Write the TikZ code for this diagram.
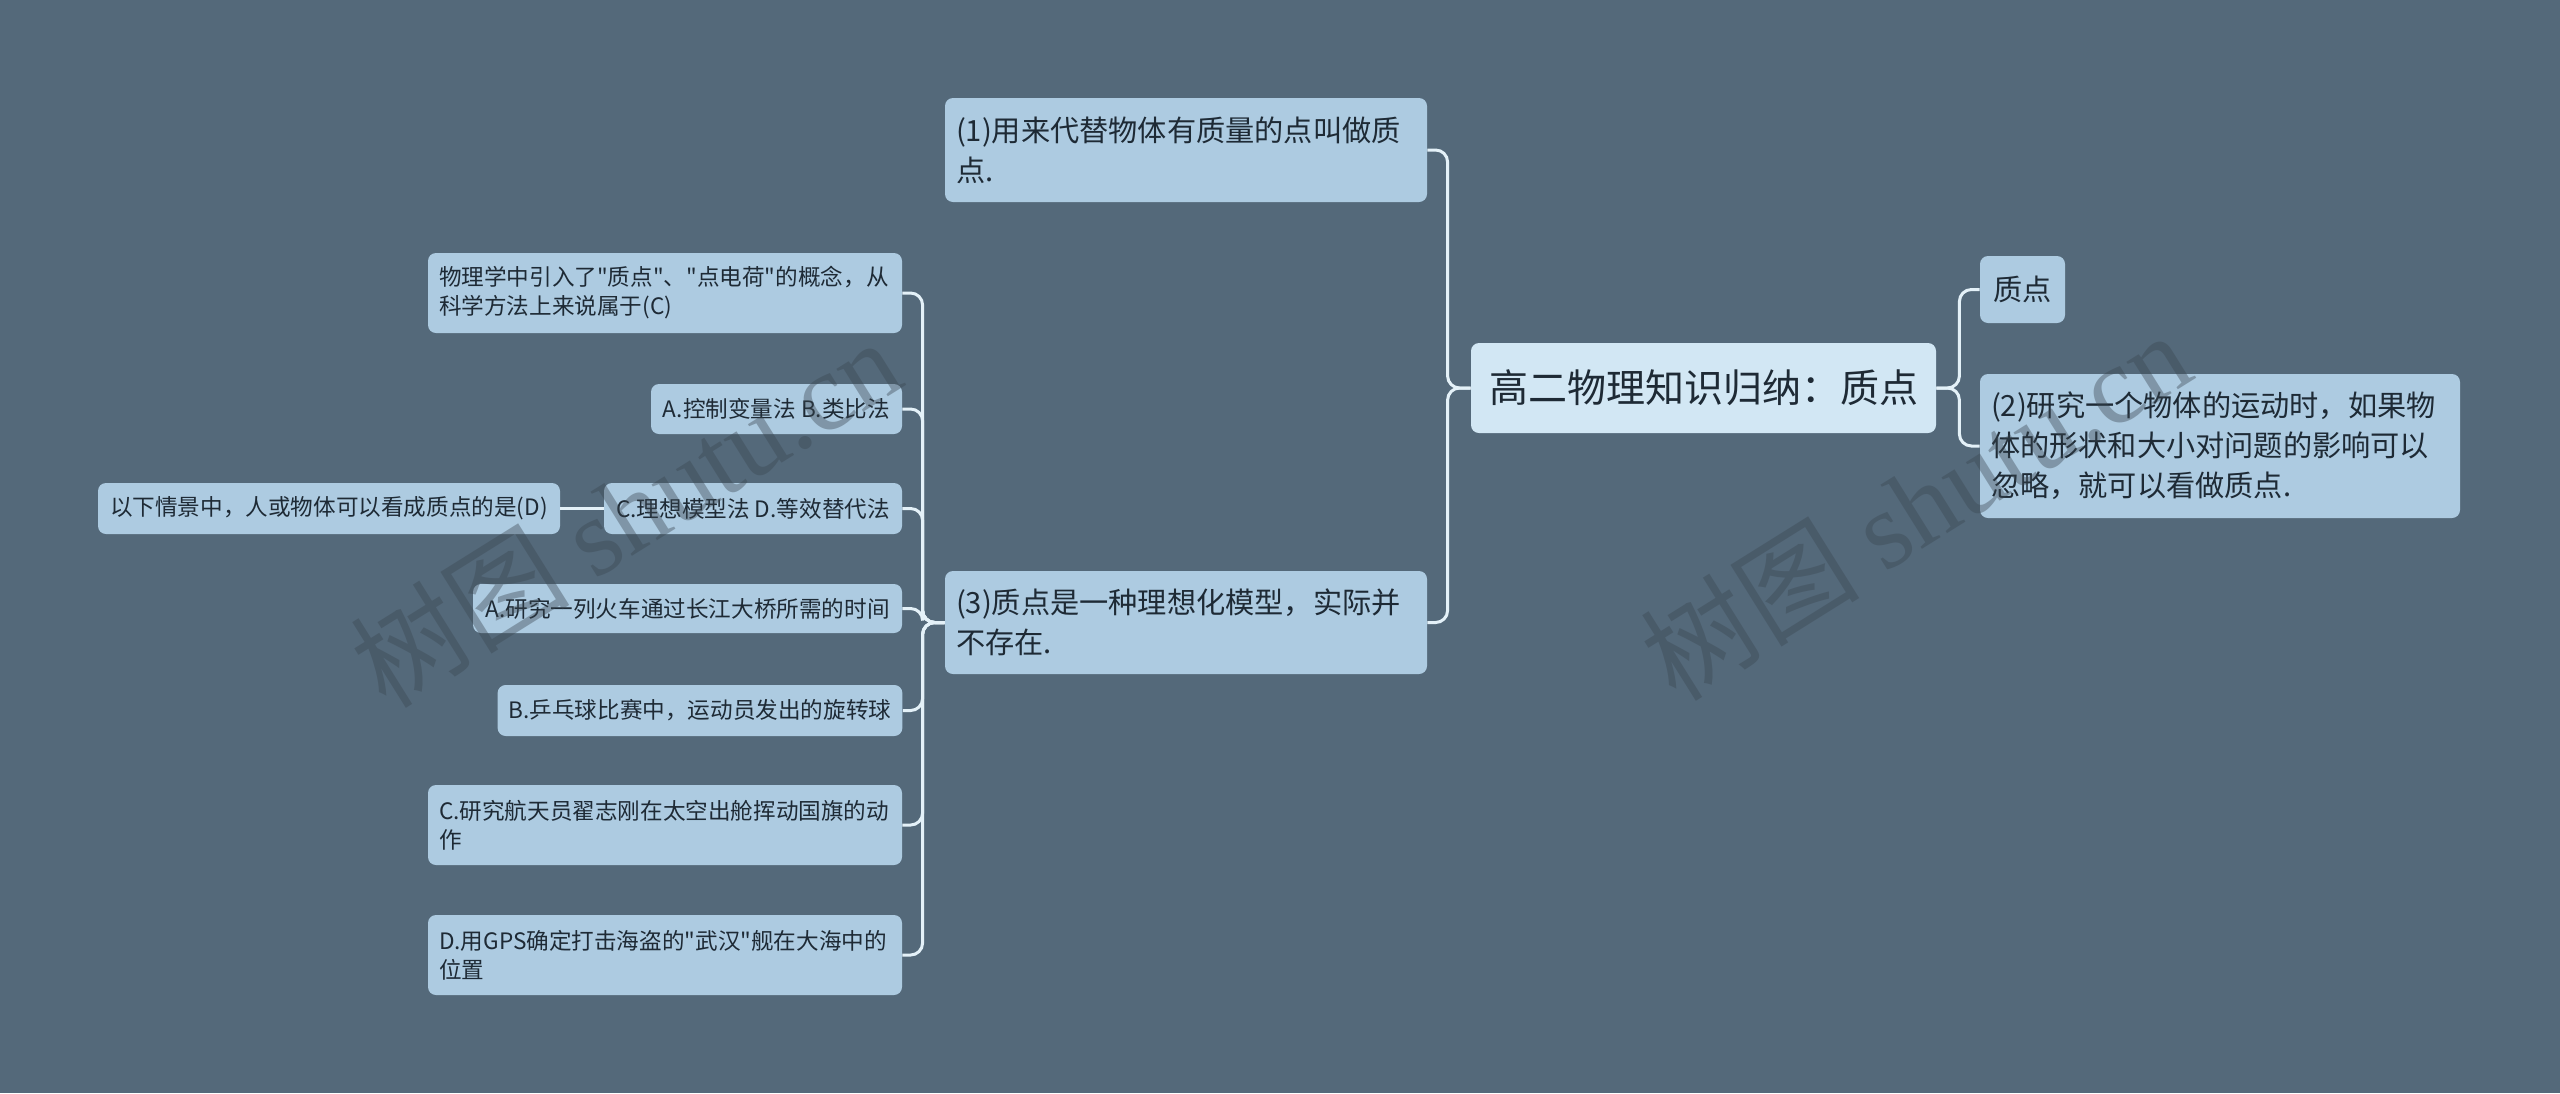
\documentclass[tikz,border=0pt]{standalone}
\usepackage{fontspec}
\setmainfont{Noto Sans CJK SC}[Ligatures=TeXOff]
\newfontfamily\wmlatin{Liberation Serif}
\usetikzlibrary{calc}
\definecolor{bg}{HTML}{54697A}
\definecolor{boxc}{HTML}{ADCBE1}
\definecolor{rootc}{HTML}{D2E7F4}
\definecolor{linec}{HTML}{E4F1F8}
\definecolor{txt}{HTML}{1E2A35}
\definecolor{wmc}{HTML}{3A4650}
\tikzset{
  box/.style={rectangle, rounded corners=4pt, fill=boxc, text=txt, inner xsep=5.5pt, inner ysep=0pt,
    font=\fontsize{14.6}{20}\selectfont},
  small/.style={font=\fontsize{11.3}{14.5}\selectfont},
  conn/.style={draw=linec, line width=1.5pt, rounded corners=6pt},
  wm/.style={rotate=32, text=wmc, opacity=0.4, font=\fontsize{55}{60}\selectfont}
}
\begin{document}
\begin{tikzpicture}[x=0.5pt,y=-0.5pt]
\fill[bg] (0,0) rectangle (2560,1093);
\useasboundingbox (0,0) rectangle (2560,1093);

% root
\node[box, fill=rootc, minimum width=232.5pt, minimum height=45pt, font=\fontsize{19.5}{24}\selectfont] (root) at (1703.5,388) {高二物理知识归纳：质点};

% right side
\node[box, minimum width=42.5pt, minimum height=33.5pt] (zd) at (2022.5,289.5) {质点};
\node[box, minimum width=240pt, minimum height=72pt, align=left, text width=229pt] (n2) at (2220,446)
  {(2)研究一个物体的运动时，如果物\\体的形状和大小对问题的影响可以\\忽略，就可以看做质点.};

% left main children
\node[box, minimum width=241pt, minimum height=52pt, align=left, text width=230pt] (n1) at (1186,150)
  {(1)用来代替物体有质量的点叫做质\\点.};
\node[box, minimum width=241pt, minimum height=51.5pt, align=left, text width=230pt] (n3) at (1186,622.5)
  {(3)质点是一种理想化模型，实际并\\不存在.};

% (3) subtree
\node[box, small, minimum width=237pt, minimum height=40pt, align=left, text width=226pt] (q1) at (665,293)
  {物理学中引入了"质点"、"点电荷"的概念，从\\科学方法上来说属于(C)};
\node[box, small, minimum width=125.5pt, minimum height=25pt] (oAB) at (776.5,409) {A.控制变量法 B.类比法};
\node[box, small, minimum width=149pt, minimum height=25.5pt] (oCD) at (753,508.5) {C.理想模型法 D.等效替代法};
\node[box, small, minimum width=231pt, minimum height=25.5pt] (q2) at (329,508.5) {以下情景中，人或物体可以看成质点的是(D)};
\node[box, small, minimum width=214.5pt, minimum height=24.5pt] (sA) at (687.5,608.5) {A.研究一列火车通过长江大桥所需的时间};
\node[box, small, minimum width=202pt, minimum height=25.5pt] (sB) at (700,710.5) {B.乒乓球比赛中，运动员发出的旋转球};
\node[box, small, minimum width=237pt, minimum height=40pt, align=left, text width=226pt] (sC) at (665,825)
  {C.研究航天员翟志刚在太空出舱挥动国旗的动\\作};
\node[box, small, minimum width=237pt, minimum height=40pt, align=left, text width=226pt] (sD) at (665,955)
  {D.用GPS确定打击海盗的"武汉"舰在大海中的\\位置};

% connectors
\draw[conn] (root.west) -- ++(-23,0) |- (n1.east);
\draw[conn] (root.west) -- ++(-23,0) |- (n3.east);
\draw[conn] (root.east) -- ++(23,0) |- (zd.west);
\draw[conn] (root.east) -- ++(23,0) |- (n2.west);
\foreach \c in {q1,oAB,oCD,sA,sB,sC,sD}{
  \draw[conn] (n3.west) -- ++(-22,0) |- (\c.east);
}
\draw[conn] (oCD.west) -- (q2.east);

% watermarks
\node[wm] (wm1) at (625,512) {树图 {\wmlatin shutu.cn}};
\node[wm] (wm2) at (1915,505) {树图 {\wmlatin shutu.cn}};
\end{tikzpicture}
\end{document}
